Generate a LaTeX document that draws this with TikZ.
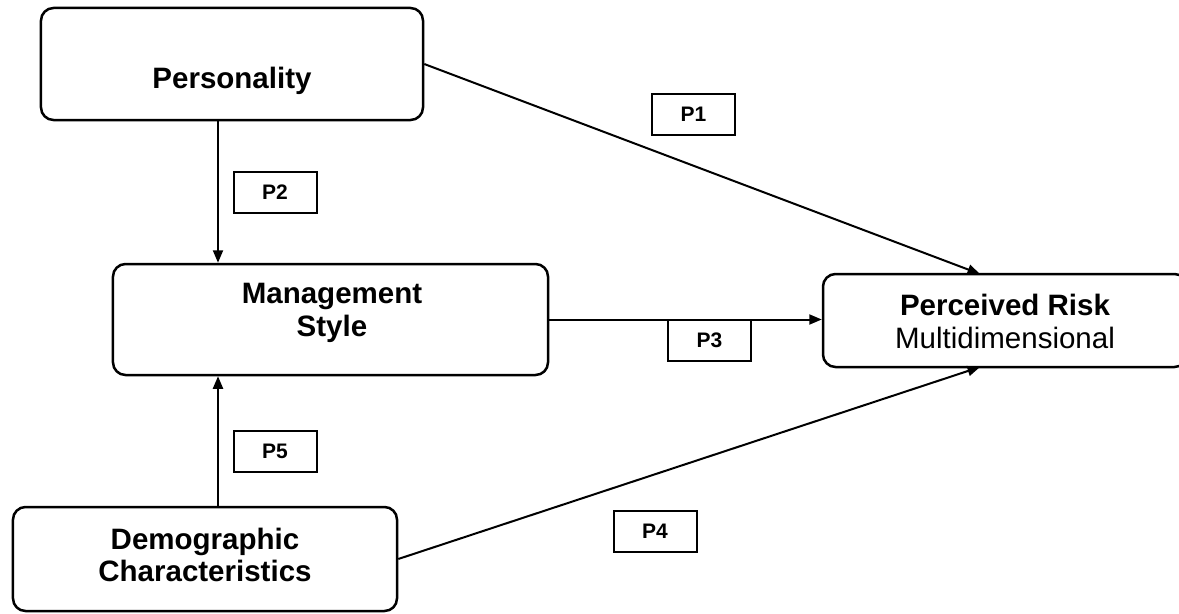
\documentclass[tikz,border=0pt]{standalone}
\usepackage{fontspec}
\setmainfont{Liberation Sans}
\usetikzlibrary{arrows.meta,positioning}

\begin{document}
\begin{tikzpicture}[x=0.4pt,y=-0.4pt,
    block/.style={draw,line width=1pt,rounded corners=5pt,inner sep=0pt},
    blocktext/.style={align=center,inner sep=0pt,font=\fontsize{11.8}{13}\selectfont},
    pbox/.style={draw,line width=0.8pt,minimum width=33.2pt,minimum height=16.4pt,inner sep=0pt,font=\fontsize{8.4}{10}\selectfont\bfseries},
    link/.style={line width=0.8pt,-{Triangle[length=5pt,width=4pt]}}]
  \useasboundingbox (0,0) rectangle (1179,613);
  % boxes
  \node[block,minimum width=152.8pt,minimum height=44.8pt] (pers) at (232,64) {};
  \node[block,minimum width=174pt,minimum height=44.4pt] (mgmt) at (330.5,319.5) {};
  \node[block,minimum width=145.6pt,minimum height=37.2pt] (risk) at (1005,320.5) {};
  \node[block,minimum width=153.6pt,minimum height=41.6pt] (demo) at (205,559) {};
  % texts
  \node[blocktext,font=\fontsize{11.8}{13}\selectfont\bfseries] (perstext) at (232,81) {Personality};
  \node[blocktext,font=\fontsize{11.8}{13}\selectfont\bfseries] (mgmttext) at (332,313) {Management\\Style};
  \node[blocktext] (risktext) at (1005,321.5) {\textbf{Perceived Risk}\\Multidimensional};
  \node[blocktext,font=\fontsize{11.8}{13}\selectfont\bfseries] (demotext) at (205,555) {Demographic\\Characteristics};
  % propositions
  \node[pbox] (p1) at (693.5,114.5) {P1};
  \node[pbox] (p2) at (275,192.5) {P2};
  \node[pbox] (p3) at (709.5,340.5) {P3};
  \node[pbox] (p4) at (655,531.5) {P4};
  \node[pbox] (p5) at (275,451.5) {P5};
  % links
  \coordinate (vx) at (218,0);
  \coordinate (rtop) at (980,274);
  \coordinate (rbot) at (980,367);
  \draw[link] (pers.east) -- (rtop);
  \draw[link] (pers.south -| vx) -- (mgmt.north -| vx);
  \draw[link] (mgmt.east) -- (mgmt.east -| risk.west);
  \draw[link] (demo.north -| vx) -- (mgmt.south -| vx);
  \draw[link] (demo.east) -- (rbot);
\end{tikzpicture}
\end{document}
